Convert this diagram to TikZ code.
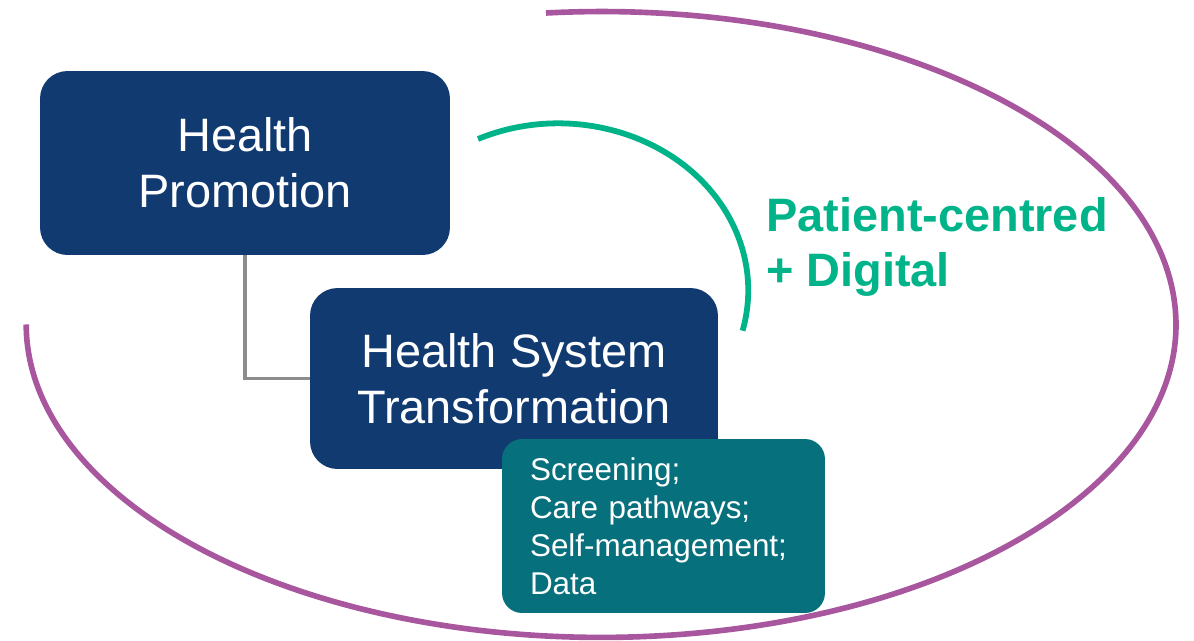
\documentclass[tikz,border=0pt]{standalone}
\usepackage{fontspec}
\setmainfont{Liberation Sans}
\definecolor{hpblue}{RGB}{16,58,112}
\definecolor{hpteal}{RGB}{6,112,124}
\definecolor{hpgreen}{RGB}{0,179,136}
\definecolor{hppurple}{RGB}{168,87,158}
\definecolor{hpgrey}{RGB}{140,140,140}
\tikzset{
    bigbox/.style={fill=hpblue,text=white,rounded corners=0.55cm,inner sep=0pt,
        align=center,font=\fontsize{26.7}{32}\selectfont},
    smallbox/.style={fill=hpteal,text=white,rounded corners=0.4cm,inner xsep=0.56cm,
        inner ysep=0pt,align=left,font=\fontsize{17.9}{21.6}\selectfont}
}
\begin{document}
\begin{tikzpicture}[x=0.02cm,y=0.02cm]
        \useasboundingbox (0,0) rectangle (1194,-640);

        % outer ring and inner arc
        \draw [hppurple,line width=3.2pt] (546,-13) arc [start angle=95.5,end angle=-180,x radius=11.5cm,y radius=6.26cm];
        \draw [hpgreen,line width=3.3pt] (478,-139) arc [start angle=115,end angle=-14,x radius=3.8cm,y radius=3.34cm];

        \node [inner sep=0pt,align=left,text=hpgreen,font=\fontsize{26.7}{31.7}\selectfont\bfseries] (digital) at (937,-247) {Patient-centred\\+ Digital};

        \node [bigbox,minimum width=8.2cm,minimum height=3.68cm] (promo) at (245,-163) {Health\\Promotion};
        \node [bigbox,minimum width=8.16cm,minimum height=3.62cm] (system) at (514,-378.5) {Health System\\Transformation};
        \draw [hpgrey,line width=2pt] (promo.south) |- (system.west);

        \node [smallbox,text width=5.34cm,minimum height=3.48cm] (tasks) at (663.5,-526) {Screening;\\Care pathways;\\Self-management;\\Data};
\end{tikzpicture}
\end{document}
